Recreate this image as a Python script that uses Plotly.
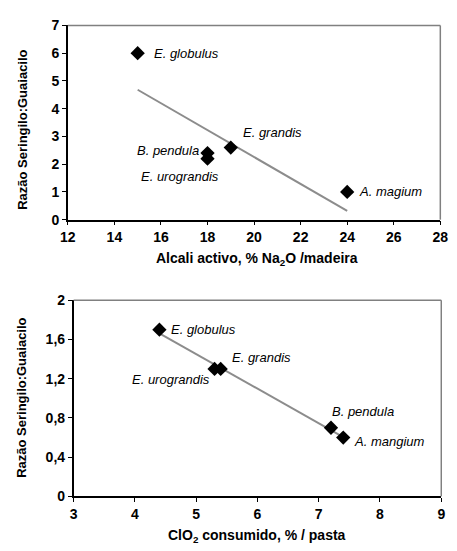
import numpy as np
import plotly.graph_objects as go

# Top chart data
alk_x = [15, 18, 18, 19, 24]
alk_sg = [6.0, 2.4, 2.2, 2.6, 1.0]
# Bottom chart data
clo2_x = [4.4, 5.3, 5.4, 7.2, 7.4]
clo2_sg = [1.7, 1.3, 1.3, 0.7, 0.6]

top_labels = ["E. globulus", "B. pendula", "E. urograndis", "E. grandis", "A. magium"]
top_lab_x = [15.6, 17.72, 15.05, 19.45, 24.4]
top_lab_y = [6.0, 2.5, 1.57, 3.13, 1.0]
top_lab_anchor = ["left", "right", "left", "left", "left"]

bot_labels = ["E. globulus", "E. urograndis", "E. grandis", "B. pendula", "A. mangium"]
bot_lab_x = [4.55, 5.26, 5.56, 7.19, 7.54]
bot_lab_y = [1.70, 1.195, 1.416, 0.87, 0.557]
bot_lab_anchor = ["left", "right", "left", "left", "left"]

top_xticks = [12, 14, 16, 18, 20, 22, 24, 26, 28]
top_yticks = [0, 1, 2, 3, 4, 5, 6, 7]
bot_xticks = [3, 4, 5, 6, 7, 8, 9]
bot_yticks = [0, 0.4, 0.8, 1.2, 1.6, 2.0]
bot_yticktext = ["0", "0,4", "0,8", "1,2", "1,6", "2"]

W, H = 457, 551
FONT = "Liberation Sans, Arial, sans-serif"

def px_x(p):
    return p / W

def px_y(p):
    return 1 - p / H

fig = go.Figure()

# trendlines (least squares fit of the data)
c1 = np.polyfit(alk_x, alk_sg, 1)
tx1 = [min(alk_x), max(alk_x)]
fig.add_trace(go.Scatter(x=tx1, y=np.polyval(c1, tx1), mode="lines",
                         line=dict(color="#8c8c8c", width=2), xaxis="x", yaxis="y",
                         showlegend=False, hoverinfo="skip"))
fig.add_trace(go.Scatter(x=alk_x, y=alk_sg, mode="markers",
                         marker=dict(symbol="diamond", size=11, color="black"),
                         xaxis="x", yaxis="y", showlegend=False))

c2 = np.polyfit(clo2_x, clo2_sg, 1)
tx2 = [min(clo2_x), max(clo2_x)]
fig.add_trace(go.Scatter(x=tx2, y=np.polyval(c2, tx2), mode="lines",
                         line=dict(color="#8c8c8c", width=2), xaxis="x2", yaxis="y2",
                         showlegend=False, hoverinfo="skip"))
fig.add_trace(go.Scatter(x=clo2_x, y=clo2_sg, mode="markers",
                         marker=dict(symbol="diamond", size=11, color="black"),
                         xaxis="x2", yaxis="y2", showlegend=False))

tickfont = dict(family=FONT, size=14, color="black", weight=700)

axis_common = dict(showgrid=False, zeroline=False, showline=True, linecolor="black",
                   linewidth=1.5, ticks="outside", ticklen=4, tickcolor="black",
                   tickwidth=1, tickfont=tickfont)

fig.update_layout(
    width=W, height=H,
    margin=dict(l=0, r=0, t=0, b=0),
    paper_bgcolor="white", plot_bgcolor="white",
    xaxis=dict(domain=[px_x(62), px_x(448)], anchor="y", range=[12, 28],
               tickvals=top_xticks, **axis_common),
    yaxis=dict(domain=[px_y(218), px_y(18)], anchor="x", range=[0, 7],
               tickvals=top_yticks, **axis_common),
    xaxis2=dict(domain=[px_x(68), px_x(449)], anchor="y2", range=[3, 9],
                tickvals=bot_xticks, **axis_common),
    yaxis2=dict(domain=[px_y(503), px_y(301)], anchor="x2", range=[0, 2],
                tickvals=bot_yticks, ticktext=bot_yticktext, **axis_common),
)

# gray top/right frame
for xr, yr in [("x", "y"), ("x2", "y2")]:
    fig.add_shape(type="line", xref=xr + " domain", yref=yr + " domain",
                  x0=0, x1=1, y0=1, y1=1, line=dict(color="#808080", width=1.5))
    fig.add_shape(type="line", xref=xr + " domain", yref=yr + " domain",
                  x0=1, x1=1, y0=0, y1=1, line=dict(color="#808080", width=1.5))

lab_font = dict(family=FONT, size=13, color="black", style="italic")
for t, x, y, a in zip(top_labels, top_lab_x, top_lab_y, top_lab_anchor):
    fig.add_annotation(x=x, y=y, xref="x", yref="y", text=t, showarrow=False,
                       xanchor=a, yanchor="middle", font=lab_font)
for t, x, y, a in zip(bot_labels, bot_lab_x, bot_lab_y, bot_lab_anchor):
    fig.add_annotation(x=x, y=y, xref="x2", yref="y2", text=t, showarrow=False,
                       xanchor=a, yanchor="middle", font=lab_font)

xtitle_font = dict(family=FONT, size=14, color="black", weight=700)
ytitle_font = dict(family=FONT, size=13, color="black", weight=700)
fig.add_annotation(x=px_x(258), y=px_y(259), xref="paper", yref="paper",
                   text="Alcali activo, % Na<sub>2</sub>O /madeira", showarrow=False,
                   xanchor="center", yanchor="middle", font=xtitle_font)
fig.add_annotation(x=px_x(258), y=px_y(544), xref="paper", yref="paper",
                   text="ClO<sub>2</sub> consumido, % / pasta", showarrow=False,
                   xanchor="center", yanchor="middle", font=xtitle_font)
fig.add_annotation(x=px_x(15), y=px_y(125), xref="paper", yref="paper",
                   text="Razão Seringilo:Guaiacilo", showarrow=False, textangle=-90,
                   xanchor="center", yanchor="middle", font=ytitle_font)
fig.add_annotation(x=px_x(14), y=px_y(402), xref="paper", yref="paper",
                   text="Razão Seringilo:Guaiacilo", showarrow=False, textangle=-90,
                   xanchor="center", yanchor="middle", font=ytitle_font)

fig.write_html("out.html")
